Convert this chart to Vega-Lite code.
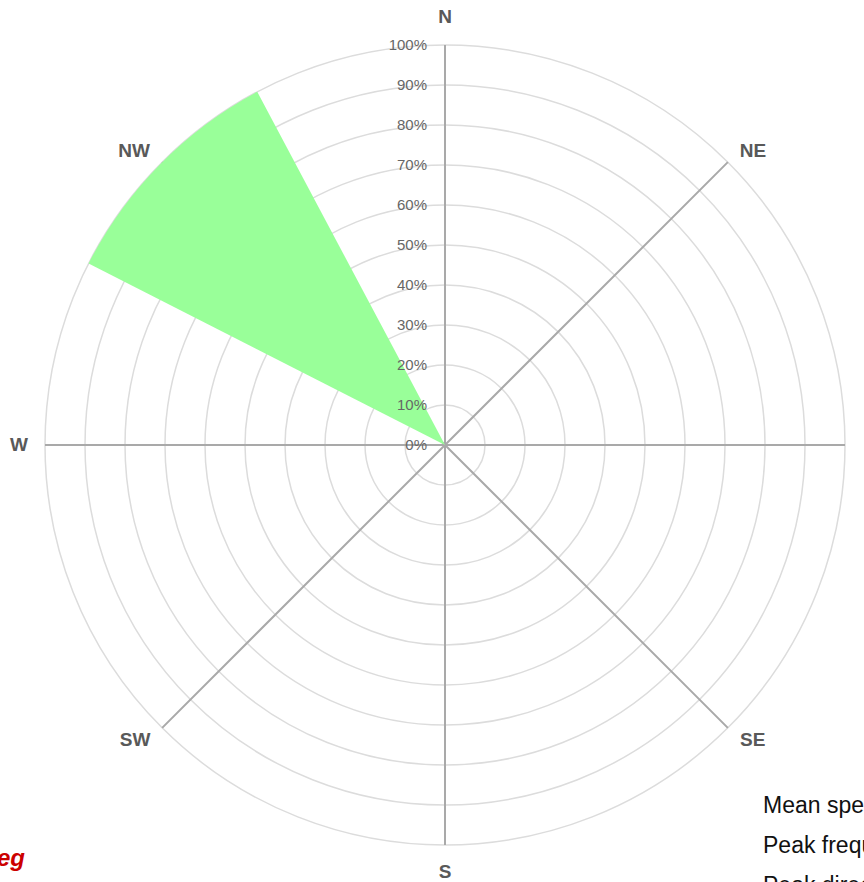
{
  "$schema": "https://vega.github.io/schema/vega-lite/v6.json",
  "width": 890,
  "height": 890,
  "autosize": "none",
  "padding": 0,
  "background": "white",
  "config": {"view": {"stroke": null}, "font": "Liberation Sans"},
  "datasets": {
    "rings": [{"r": 10}, {"r": 20}, {"r": 30}, {"r": 40}, {"r": 50}, {"r": 60}, {"r": 70}, {"r": 80}, {"r": 90}, {"r": 100}],
    "dirs": [
      {"dir": "N", "angle": 0}, {"dir": "NE", "angle": 45}, {"dir": "E", "angle": 90}, {"dir": "SE", "angle": 135},
      {"dir": "S", "angle": 180}, {"dir": "SW", "angle": 225}, {"dir": "W", "angle": 270}, {"dir": "NW", "angle": 315}
    ],
    "dirLabels": [
      {"dir": "N", "angle": 0, "r": 107}, {"dir": "NE", "angle": 46.3, "r": 106.5}, {"dir": "E", "angle": 90, "r": 106.8},
      {"dir": "SE", "angle": 133.8, "r": 106.6}, {"dir": "S", "angle": 180, "r": 106.8}, {"dir": "SW", "angle": 226.4, "r": 107},
      {"dir": "W", "angle": 270, "r": 106.5}, {"dir": "NW", "angle": 313.4, "r": 107}
    ],
    "sectors": [{"dir": "NW", "start": 297, "end": 332, "pct": 100}],
    "ticks": [
      {"r": 0, "label": "0%"}, {"r": 10, "label": "10%"}, {"r": 20, "label": "20%"}, {"r": 30, "label": "30%"},
      {"r": 40, "label": "40%"}, {"r": 50, "label": "50%"}, {"r": 60, "label": "60%"}, {"r": 70, "label": "70%"},
      {"r": 80, "label": "80%"}, {"r": 90, "label": "90%"}, {"r": 100, "label": "100%"}
    ],
    "notes": [
      {"text": "Mean speed: 14.2 km/h", "x": 79.5, "y": -92.1},
      {"text": "Peak frequency: 100%", "x": 79.5, "y": -102.1},
      {"text": "Peak direction: NW", "x": 79.5, "y": -112.1}
    ],
    "city": [{"text": "Winnipeg", "x": -105, "y": -105.3}]
  },
  "layer": [
    {
      "data": {"name": "rings"},
      "mark": {"type": "arc", "fill": null, "filled": false, "stroke": "#dcdcdc", "strokeWidth": 1.5},
      "encoding": {
        "theta": {"datum": 0, "type": "quantitative", "stack": null, "scale": {"domain": [0, 360]}},
        "theta2": {"datum": 360},
        "radius": {"field": "r", "type": "quantitative", "stack": null, "scale": {"type": "linear", "domain": [0, 100], "range": [0, 400], "nice": false, "zero": true}}
      }
    },
    {
      "data": {"name": "dirs"},
      "mark": {"type": "arc", "fill": null, "filled": false, "stroke": "#a9a9a9", "strokeWidth": 2},
      "encoding": {
        "theta": {"field": "angle", "type": "quantitative", "stack": null},
        "theta2": {"field": "angle"},
        "radius": {"datum": 100, "type": "quantitative", "stack": null}
      }
    },
    {
      "data": {"name": "sectors"},
      "mark": {"type": "arc", "fill": "#99ff99", "stroke": null},
      "encoding": {
        "theta": {"field": "start", "type": "quantitative", "stack": null},
        "theta2": {"field": "end"},
        "radius": {"field": "pct", "type": "quantitative", "stack": null}
      }
    },
    {
      "data": {"name": "ticks"},
      "mark": {"type": "text", "align": "right", "baseline": "middle", "dx": -18, "fontSize": 15, "fill": "#666666"},
      "encoding": {
        "theta": {"datum": 0, "type": "quantitative", "stack": null},
        "radius": {"field": "r", "type": "quantitative", "stack": null},
        "text": {"field": "label"}
      }
    },
    {
      "data": {"name": "dirLabels"},
      "mark": {"type": "text", "align": "center", "baseline": "middle", "fontSize": 19, "fontWeight": "bold", "fill": "#595959"},
      "encoding": {
        "theta": {"field": "angle", "type": "quantitative", "stack": null},
        "radius": {"field": "r", "type": "quantitative", "stack": null},
        "text": {"field": "dir"}
      }
    },
    {
      "data": {"name": "notes"},
      "mark": {"type": "text", "align": "left", "baseline": "alphabetic", "fontSize": 23, "fill": "#111111"},
      "encoding": {
        "x": {"field": "x", "type": "quantitative", "scale": {"domain": [-111.25, 111.25], "nice": false, "zero": false}, "axis": null},
        "y": {"field": "y", "type": "quantitative", "scale": {"domain": [-111.25, 111.25], "nice": false, "zero": false}, "axis": null},
        "text": {"field": "text"}
      }
    },
    {
      "data": {"name": "city"},
      "mark": {"type": "text", "align": "right", "baseline": "alphabetic", "fontSize": 24, "fontWeight": "bold", "fontStyle": "italic", "fill": "#cc0000"},
      "encoding": {
        "x": {"field": "x", "type": "quantitative"},
        "y": {"field": "y", "type": "quantitative"},
        "text": {"field": "text"}
      }
    }
  ]
}
